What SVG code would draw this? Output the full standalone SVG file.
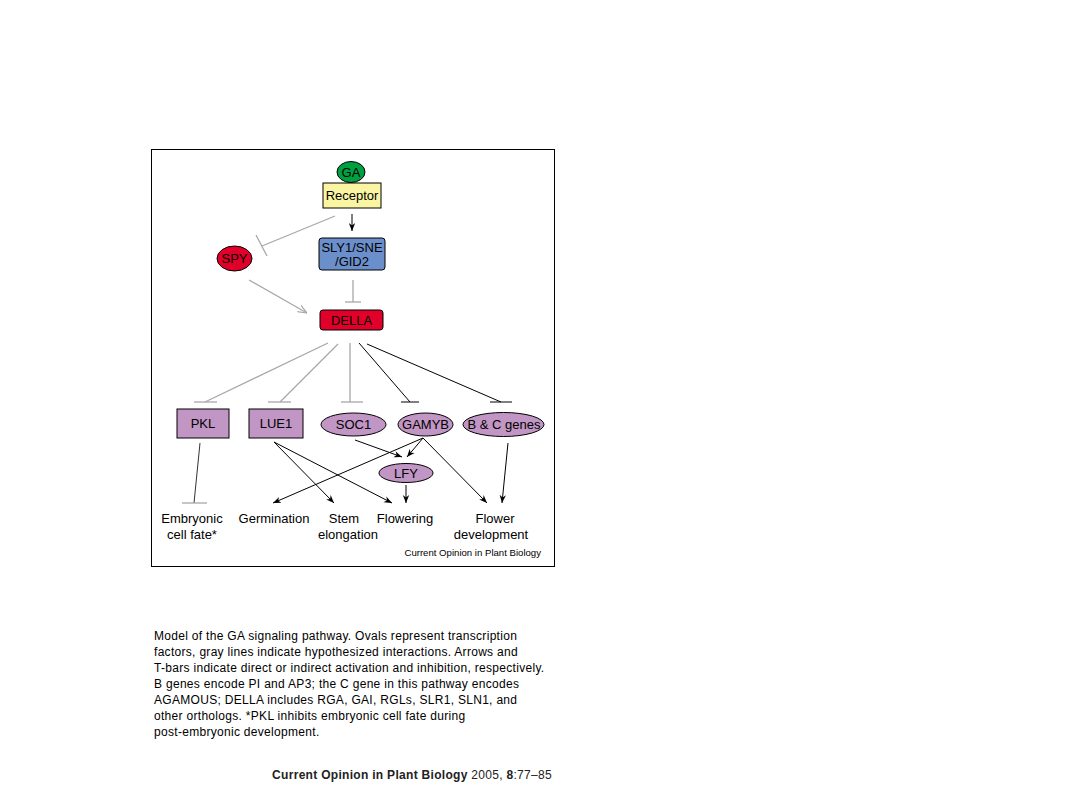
<svg xmlns="http://www.w3.org/2000/svg" width="1080" height="810" viewBox="0 0 1080 810">
<defs>
<style>
text{font-family:"Liberation Sans",Arial,sans-serif;fill:#000}
.n{font-size:13px;text-anchor:middle}
.lab{font-size:13px;text-anchor:middle}
.cap{font-size:12px;letter-spacing:0.3px}
.blk{stroke:#000;stroke-width:1;fill:none}
.gry{stroke:#a8a8a8;stroke-width:1.3;fill:none}
.pur{fill:#c196c4;stroke:#000;stroke-width:1}
</style>
<marker id="ab" viewBox="0 0 10 10" refX="10" refY="5" markerWidth="8" markerHeight="8" markerUnits="userSpaceOnUse" orient="auto"><path d="M0,1 L10,5 L0,9 L3,5 Z" fill="#000"/></marker>
<marker id="ag" viewBox="0 0 10 10" refX="10" refY="5" markerWidth="9" markerHeight="9" markerUnits="userSpaceOnUse" orient="auto"><path d="M0,1 L10,5 L0,9" fill="none" stroke="#a8a8a8" stroke-width="1.3"/></marker>
</defs>
<rect width="1080" height="810" fill="#fff"/>
<rect x="151.5" y="149.5" width="403" height="417" fill="#fff" stroke="#000" stroke-width="1"/>

<g id="connectors">
<line class="blk" x1="352" y1="214" x2="352" y2="231" marker-end="url(#ab)"/>
<line class="gry" x1="335" y1="216" x2="262" y2="246"/>
<line class="gry" x1="256" y1="235" x2="267" y2="256"/>
<line class="gry" x1="249" y1="280" x2="307" y2="313" marker-end="url(#ag)"/>
<line class="gry" x1="353" y1="280" x2="353" y2="302"/>
<line class="gry" x1="345" y1="302" x2="361" y2="302"/>

<line class="gry" x1="328" y1="343" x2="205" y2="402"/>
<line class="gry" x1="194" y1="402" x2="217" y2="402"/>
<line class="gry" x1="338" y1="344" x2="280" y2="402"/>
<line class="gry" x1="268" y1="402" x2="291" y2="402"/>
<line class="gry" x1="350" y1="343" x2="350" y2="402"/>
<line class="gry" x1="341" y1="402" x2="363" y2="402"/>
<line class="blk" x1="359" y1="343" x2="410" y2="402"/>
<line class="blk" x1="401" y1="402" x2="419" y2="402"/>
<line class="blk" x1="367" y1="344" x2="501" y2="402"/>
<line class="blk" x1="490" y1="402" x2="512" y2="402"/>

<line x1="200" y1="443" x2="194" y2="503" stroke="#333" stroke-width="1"/>
<line class="gry" x1="182" y1="503" x2="207" y2="503"/>
<line class="blk" x1="274" y1="442" x2="334" y2="503" marker-end="url(#ab)"/>
<line class="blk" x1="274" y1="442" x2="392" y2="503" marker-end="url(#ab)"/>
<line class="blk" x1="423" y1="438" x2="273" y2="503" marker-end="url(#ab)"/>
<line class="blk" x1="423" y1="438" x2="407" y2="457" marker-end="url(#ab)"/>
<line class="blk" x1="423" y1="438" x2="487" y2="503" marker-end="url(#ab)"/>
<line class="blk" x1="355" y1="440" x2="402" y2="457" marker-end="url(#ab)"/>
<line class="blk" x1="406" y1="485" x2="406" y2="503" marker-end="url(#ab)"/>
<line class="blk" x1="508" y1="443" x2="502" y2="503" marker-end="url(#ab)"/>
</g>

<g id="GA"><ellipse cx="351" cy="172" rx="14" ry="10.5" fill="#00a040" stroke="#000"/><text class="n" x="351" y="177">GA</text></g>
<g id="Receptor"><rect x="323" y="183" width="58" height="25" fill="#faf5a2" stroke="#000"/><text class="n" x="352" y="200">Receptor</text></g>
<g id="SLY1"><rect x="319" y="238" width="66" height="32" rx="3" fill="#6b8fcb" stroke="#000"/><text class="n" x="352" y="252">SLY1/SNE</text><text class="n" x="352" y="266">/GID2</text></g>
<g id="SPY"><ellipse cx="234.5" cy="258.5" rx="17.5" ry="12.5" fill="#e0002a" stroke="#000"/><text class="n" x="234.5" y="263">SPY</text></g>
<g id="DELLA"><rect x="320" y="310" width="63" height="20" rx="3" fill="#e0002a" stroke="#000"/><text class="n" x="351.5" y="325">DELLA</text></g>

<g id="PKL"><rect class="pur" x="177" y="409" width="52" height="29"/><text class="n" x="203" y="428">PKL</text></g>
<g id="LUE1"><rect class="pur" x="249" y="409" width="54" height="29"/><text class="n" x="276" y="428">LUE1</text></g>
<g id="SOC1"><ellipse class="pur" cx="353.5" cy="424.5" rx="32.5" ry="11.5"/><text class="n" x="353.5" y="429">SOC1</text></g>
<g id="GAMYB"><ellipse class="pur" cx="425.5" cy="424.5" rx="27.5" ry="11.5"/><text class="n" x="425.5" y="429">GAMYB</text></g>
<g id="BC"><ellipse class="pur" cx="503.5" cy="424.5" rx="40.5" ry="12"/><text class="n" x="504" y="429">B &amp; C genes</text></g>
<g id="LFY"><ellipse class="pur" cx="406" cy="473" rx="27" ry="9.5"/><text class="n" x="406" y="478">LFY</text></g>

<g id="outputs">
<text class="lab" x="192" y="523">Embryonic</text><text class="lab" x="192" y="539">cell fate*</text>
<text class="lab" x="274" y="523">Germination</text>
<text class="lab" x="344" y="523">Stem</text><text class="lab" x="348" y="539">elongation</text>
<text class="lab" x="405" y="523">Flowering</text>
<text class="lab" x="495" y="523">Flower</text><text class="lab" x="491" y="539">development</text>
</g>
<text x="541" y="556" text-anchor="end" style="font-size:9.6px">Current Opinion in Plant Biology</text>

<g id="caption">
<text class="cap" x="154" y="640">Model of the GA signaling pathway. Ovals represent transcription</text>
<text class="cap" x="154" y="656">factors, gray lines indicate hypothesized interactions. Arrows and</text>
<text class="cap" x="154" y="672">T-bars indicate direct or indirect activation and inhibition, respectively.</text>
<text class="cap" x="154" y="688">B genes encode PI and AP3; the C gene in this pathway encodes</text>
<text class="cap" x="154" y="704">AGAMOUS; DELLA includes RGA, GAI, RGLs, SLR1, SLN1, and</text>
<text class="cap" x="154" y="720">other orthologs. *PKL inhibits embryonic cell fate during</text>
<text class="cap" x="154" y="736">post-embryonic development.</text>
</g>
<text class="cap" x="552" y="779" text-anchor="end" style="fill:#222"><tspan font-weight="bold">Current Opinion in Plant Biology</tspan> 2005, <tspan font-weight="bold">8</tspan>:77–85</text>
</svg>
